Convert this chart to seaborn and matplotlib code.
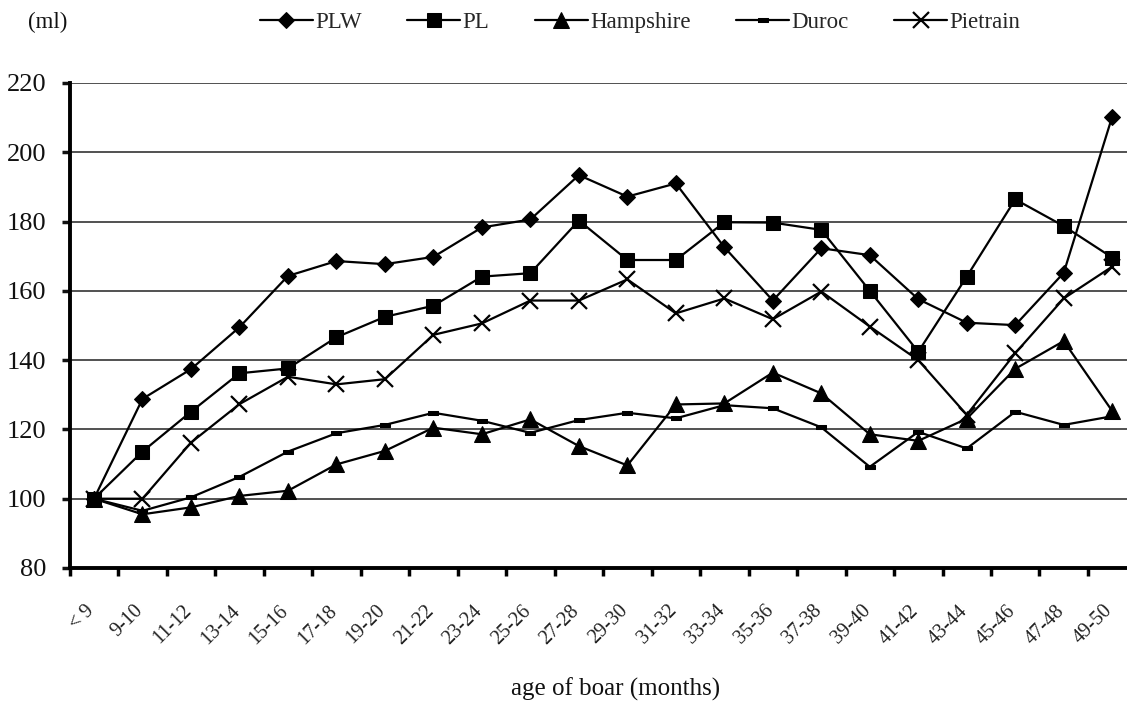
import numpy as np
import pandas as pd
import matplotlib
matplotlib.use('Agg')
import matplotlib.pyplot as plt
import matplotlib.transforms as mtransforms
import seaborn as sns

ages = ['< 9', '9-10', '11-12', '13-14', '15-16', '17-18', '19-20', '21-22', '23-24',
        '25-26', '27-28', '29-30', '31-32', '33-34', '35-36', '37-38', '39-40', '41-42',
        '43-44', '45-46', '47-48', '49-50']

plw = [100, 128.8, 137.4, 149.5, 164.3, 168.6, 167.7, 169.8, 178.3, 180.6, 193.4,
       187.2, 191.0, 172.6, 157.2, 172.3, 170.3, 157.6, 150.8, 150.1, 165.2, 210.3]
pl = [100, 113.6, 125.1, 136.2, 137.6, 146.6, 152.5, 155.7, 164.1, 165.1, 180.3,
      168.9, 168.9, 179.8, 179.7, 177.6, 160.0, 142.4, 164.1, 186.4, 178.7, 169.6]
hampshire = [100, 95.5, 97.5, 100.8, 102.3, 109.9, 113.8, 120.5, 118.6, 122.9, 115.2,
             109.6, 127.2, 127.5, 136.4, 130.4, 118.6, 116.7, 123.1, 137.5, 145.5, 125.3]
duroc = [100, 96.5, 100.4, 106.3, 113.6, 118.9, 121.3, 124.8, 122.5, 119.0, 122.7,
         124.8, 123.2, 127.0, 126.1, 120.6, 109.2, 119.3, 114.5, 125.1, 121.3, 123.8]
pietrain = [100, 100, 116.2, 127.3, 135.2, 133.0, 134.5, 147.3, 150.6, 157.2, 157.2,
            163.3, 153.5, 157.8, 151.8, 159.8, 149.7, 140.0, 124.2, 142.0, 157.8, 167.0]

series = ['PLW', 'PL', 'Hampshire', 'Duroc', 'Pietrain']
values = [plw, pl, hampshire, duroc, pietrain]

dash = [(-1, -0.35), (1, -0.35), (1, 0.35), (-1, 0.35), (-1, -0.35)]
styles = {
    'PLW': dict(marker='D', markersize=8.5),
    'PL': dict(marker='s', markersize=10),
    'Hampshire': dict(marker='^', markersize=11),
    'Duroc': dict(marker=dash, markersize=7),
    'Pietrain': dict(marker='x', markersize=12, markeredgewidth=1.6),
}

sns.set_theme(style='white')
plt.rcParams['font.family'] = ['Liberation Serif', 'DejaVu Serif']

fig = plt.figure(figsize=(11.27, 7.02), dpi=100)
ax = fig.add_axes([0.0619, 0.1909, 0.9465, 0.6909])

x = np.arange(len(ages))
for name, vals in zip(series, values):
    sns.lineplot(x=x, y=vals, ax=ax, color='black', linewidth=1.6,
                 markeredgecolor='black', markerfacecolor='black',
                 label=name, errorbar=None, **styles[name])

ax.set_xlim(-0.5, 21.5)
ax.set_ylim(80, 220)
ax.set_yticks(np.arange(80, 221, 20))
ax.tick_params(axis='y', labelsize=19, length=6, width=2.5, direction='out',
               left=True, pad=11, colors='#111111')
for yv in range(100, 221, 20):
    ax.axhline(yv, color='#222222', linewidth=1.1, zorder=0)

# category boundaries carry the tick marks, labels sit at the centers
ax.set_xticks(np.arange(-0.5, 21, 1))
ax.set_xticklabels([])
ax.tick_params(axis='x', which='major', length=6, width=2.5, direction='out',
               bottom=True, colors='black')
ax.set_xticks(x, minor=True)
ax.set_xticklabels(ages, minor=True, rotation=45, ha='right', va='top',
                   rotation_mode='anchor', fontsize=14.5, color='#222222')
ax.tick_params(axis='x', which='minor', length=0, pad=24)
offset = mtransforms.ScaledTranslation(-9 / 100, 0, fig.dpi_scale_trans)
for lbl in ax.get_xticklabels(minor=True):
    lbl.set_transform(lbl.get_transform() + offset)

for side in ['top', 'right']:
    ax.spines[side].set_visible(False)
ax.spines['left'].set_linewidth(2.8)
ax.spines['bottom'].set_linewidth(2.8)
ax.spines['left'].set_color('black')
ax.spines['bottom'].set_color('black')
ax.set_xlabel('')
ax.set_ylabel('')

handles, labels = ax.get_legend_handles_labels()
ax.get_legend().remove()
fig.legend(handles, labels, loc='center', bbox_to_anchor=(640 / 1127, 1 - 22 / 702),
           ncol=5, frameon=False, fontsize=16.5, handlelength=2.3, handletextpad=0.1,
           columnspacing=2.0)

fig.text(28 / 1127, 1 - 22 / 702, '(ml)', fontsize=16.5, va='center', ha='left', color='#111111')
fig.text(616 / 1127, 1 - 689 / 702, 'age of boar (months)', fontsize=18, ha='center',
         va='center', color='#111111')

fig.savefig('out.png', dpi=100, facecolor='white')
